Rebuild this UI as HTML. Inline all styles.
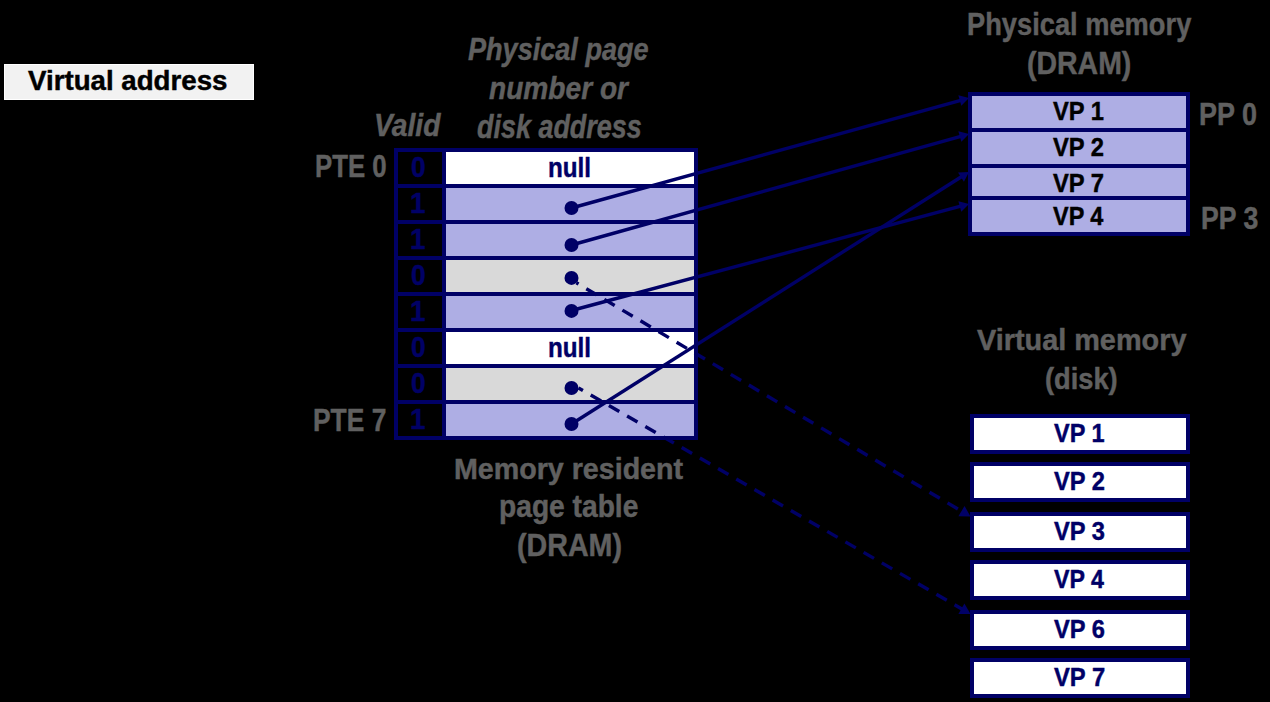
<!DOCTYPE html>
<html><head><meta charset="utf-8"><style>
html,body{margin:0;padding:0;background:#000;}
body{width:1270px;height:702px;position:relative;overflow:hidden;font-family:"Liberation Sans",sans-serif;font-weight:bold;}
.t{position:absolute;white-space:nowrap;transform-origin:0 0;-webkit-text-stroke:0.45px currentColor;}
.r{position:absolute;box-sizing:border-box;}
svg{position:absolute;left:0;top:0;}
</style></head><body>

<div class="r" style="left:4px;top:64px;width:250px;height:36px;background:#f2f2f2;border:1px solid #fff"></div>
<div class="r" style="left:394px;top:148px;width:304px;height:292px;background:#000066"></div>
<div class="r" style="left:398px;top:152px;width:44px;height:32px;background:#000"></div>
<div class="r" style="left:446px;top:152px;width:248px;height:32px;background:#ffffff"></div>
<div class="r" style="left:398px;top:188px;width:44px;height:32px;background:#000"></div>
<div class="r" style="left:446px;top:188px;width:248px;height:32px;background:#aeaee4"></div>
<div class="r" style="left:398px;top:224px;width:44px;height:32px;background:#000"></div>
<div class="r" style="left:446px;top:224px;width:248px;height:32px;background:#aeaee4"></div>
<div class="r" style="left:398px;top:260px;width:44px;height:32px;background:#000"></div>
<div class="r" style="left:446px;top:260px;width:248px;height:32px;background:#d9d9d9"></div>
<div class="r" style="left:398px;top:296px;width:44px;height:32px;background:#000"></div>
<div class="r" style="left:446px;top:296px;width:248px;height:32px;background:#aeaee4"></div>
<div class="r" style="left:398px;top:332px;width:44px;height:32px;background:#000"></div>
<div class="r" style="left:446px;top:332px;width:248px;height:32px;background:#ffffff"></div>
<div class="r" style="left:398px;top:368px;width:44px;height:32px;background:#000"></div>
<div class="r" style="left:446px;top:368px;width:248px;height:32px;background:#d9d9d9"></div>
<div class="r" style="left:398px;top:404px;width:44px;height:32px;background:#000"></div>
<div class="r" style="left:446px;top:404px;width:248px;height:32px;background:#aeaee4"></div>
<div class="r" style="left:968px;top:92px;width:222px;height:144px;background:#000066"></div>
<div class="r" style="left:972px;top:96px;width:214px;height:32px;background:#aeaee4"></div>
<div class="r" style="left:972px;top:132px;width:214px;height:32px;background:#aeaee4"></div>
<div class="r" style="left:972px;top:168px;width:214px;height:28px;background:#aeaee4"></div>
<div class="r" style="left:972px;top:200px;width:214px;height:32px;background:#aeaee4"></div>
<div class="r" style="left:970px;top:414px;width:220px;height:40px;border:4px solid #000066;background:#fff"></div>
<div class="r" style="left:970px;top:462px;width:220px;height:40px;border:4px solid #000066;background:#fff"></div>
<div class="r" style="left:970px;top:512px;width:220px;height:40px;border:4px solid #000066;background:#fff"></div>
<div class="r" style="left:970px;top:560px;width:220px;height:40px;border:4px solid #000066;background:#fff"></div>
<div class="r" style="left:970px;top:610px;width:220px;height:40px;border:4px solid #000066;background:#fff"></div>
<div class="r" style="left:970px;top:658px;width:220px;height:40px;border:4px solid #000066;background:#fff"></div>
<div class="t" style="left:28.00px;top:66.70px;font-size:28.03px;line-height:28.03px;color:#000000;transform:scaleX(0.9878)">Virtual address</div>
<div class="t" style="left:468.43px;top:34.37px;font-size:31.31px;line-height:31.31px;color:#606060;transform:scaleX(0.8653);font-style:italic">Physical page</div>
<div class="t" style="left:488.52px;top:73.18px;font-size:31.72px;line-height:31.72px;color:#606060;transform:scaleX(0.8862);font-style:italic">number or</div>
<div class="t" style="left:477.39px;top:111.36px;font-size:32.41px;line-height:32.41px;color:#606060;transform:scaleX(0.8317);font-style:italic">disk address</div>
<div class="t" style="left:374.35px;top:109.39px;font-size:32.28px;line-height:32.28px;color:#606060;transform:scaleX(0.8745);font-style:italic">Valid</div>
<div class="t" style="left:314.89px;top:150.71px;font-size:31.14px;line-height:31.14px;color:#606060;transform:scaleX(0.8282)">PTE 0</div>
<div class="t" style="left:313.34px;top:405.49px;font-size:31.59px;line-height:31.59px;color:#606060;transform:scaleX(0.8353)">PTE 7</div>
<div class="t" style="left:411.00px;top:152.81px;font-size:28.57px;line-height:28.57px;color:#000066;transform:scaleX(0.9236)">0</div>
<div class="t" style="left:410.30px;top:189.06px;font-size:28.99px;line-height:28.99px;color:#000066;transform:scaleX(0.9573)">1</div>
<div class="t" style="left:410.30px;top:225.06px;font-size:28.99px;line-height:28.99px;color:#000066;transform:scaleX(0.9573)">1</div>
<div class="t" style="left:411.00px;top:260.81px;font-size:28.57px;line-height:28.57px;color:#000066;transform:scaleX(0.9236)">0</div>
<div class="t" style="left:410.30px;top:297.06px;font-size:28.99px;line-height:28.99px;color:#000066;transform:scaleX(0.9573)">1</div>
<div class="t" style="left:411.00px;top:332.81px;font-size:28.57px;line-height:28.57px;color:#000066;transform:scaleX(0.9236)">0</div>
<div class="t" style="left:411.00px;top:368.81px;font-size:28.57px;line-height:28.57px;color:#000066;transform:scaleX(0.9236)">0</div>
<div class="t" style="left:410.30px;top:405.06px;font-size:28.99px;line-height:28.99px;color:#000066;transform:scaleX(0.9573)">1</div>
<div class="t" style="left:547.67px;top:154.79px;font-size:27.03px;line-height:27.03px;color:#000066;transform:scaleX(0.8958)">null</div>
<div class="t" style="left:547.67px;top:334.79px;font-size:27.03px;line-height:27.03px;color:#000066;transform:scaleX(0.8958)">null</div>
<div class="t" style="left:454.19px;top:454.57px;font-size:28.62px;line-height:28.62px;color:#606060;transform:scaleX(1.0005)">Memory resident</div>
<div class="t" style="left:499.17px;top:490.77px;font-size:31.17px;line-height:31.17px;color:#606060;transform:scaleX(0.9044)">page table</div>
<div class="t" style="left:516.71px;top:529.15px;font-size:32.14px;line-height:32.14px;color:#606060;transform:scaleX(0.8914)">(DRAM)</div>
<div class="t" style="left:966.87px;top:8.19px;font-size:32.00px;line-height:32.00px;color:#606060;transform:scaleX(0.8520)">Physical memory</div>
<div class="t" style="left:1027.34px;top:47.19px;font-size:32.00px;line-height:32.00px;color:#606060;transform:scaleX(0.8895)">(DRAM)</div>
<div class="t" style="left:1052.92px;top:97.55px;font-size:26.30px;line-height:26.30px;color:#000000;transform:scaleX(0.9018)">VP 1</div>
<div class="t" style="left:1052.92px;top:133.55px;font-size:26.00px;line-height:26.00px;color:#000000;transform:scaleX(0.9123)">VP 2</div>
<div class="t" style="left:1052.92px;top:171.40px;font-size:25.80px;line-height:25.80px;color:#000000;transform:scaleX(0.9195)">VP 7</div>
<div class="t" style="left:1052.92px;top:202.54px;font-size:26.52px;line-height:26.52px;color:#000000;transform:scaleX(0.8841)">VP 4</div>
<div class="t" style="left:1199.12px;top:99.47px;font-size:31.43px;line-height:31.43px;color:#606060;transform:scaleX(0.8580)">PP 0</div>
<div class="t" style="left:1200.86px;top:204.43px;font-size:30.91px;line-height:30.91px;color:#606060;transform:scaleX(0.8616)">PP 3</div>
<div class="t" style="left:976.84px;top:325.38px;font-size:29.93px;line-height:29.93px;color:#606060;transform:scaleX(0.9638)">Virtual memory</div>
<div class="t" style="left:1045.38px;top:363.90px;font-size:29.93px;line-height:29.93px;color:#606060;transform:scaleX(0.9098)">(disk)</div>
<div class="t" style="left:1054.28px;top:419.62px;font-size:26.52px;line-height:26.52px;color:#000066;transform:scaleX(0.8857)">VP 1</div>
<div class="t" style="left:1054.34px;top:467.95px;font-size:26.14px;line-height:26.14px;color:#000066;transform:scaleX(0.9050)">VP 2</div>
<div class="t" style="left:1054.35px;top:517.95px;font-size:26.14px;line-height:26.14px;color:#000066;transform:scaleX(0.9050)">VP 3</div>
<div class="t" style="left:1054.27px;top:565.62px;font-size:26.52px;line-height:26.52px;color:#000066;transform:scaleX(0.8753)">VP 4</div>
<div class="t" style="left:1054.35px;top:615.95px;font-size:26.14px;line-height:26.14px;color:#000066;transform:scaleX(0.9050)">VP 6</div>
<div class="t" style="left:1054.28px;top:663.62px;font-size:26.52px;line-height:26.52px;color:#000066;transform:scaleX(0.8963)">VP 7</div>
<svg width="1270" height="702" viewBox="0 0 1270 702">
<line x1="571.50" y1="208.00" x2="960.81" y2="100.27" stroke="#000066" stroke-width="3.4"/>
<polygon points="969.00,98.00 961.31,105.83 958.38,95.23" fill="#000066"/>
<line x1="571.50" y1="245.00" x2="960.81" y2="136.29" stroke="#000066" stroke-width="3.4"/>
<polygon points="969.00,134.00 961.33,141.85 958.37,131.26" fill="#000066"/>
<line x1="576.40" y1="282.80" x2="962.33" y2="511.65" stroke="#000066" stroke-width="3.4" stroke-dasharray="12 9" stroke-dashoffset="9.5"/>
<polygon points="970.50,516.50 958.41,516.31 964.53,505.98" fill="#000066"/>
<line x1="571.50" y1="310.50" x2="960.79" y2="206.20" stroke="#000066" stroke-width="3.4"/>
<polygon points="969.00,204.00 961.25,211.77 958.40,201.15" fill="#000066"/>
<line x1="578.50" y1="388.00" x2="962.27" y2="609.26" stroke="#000066" stroke-width="3.4" stroke-dasharray="12 9" stroke-dashoffset="6.9"/>
<polygon points="970.50,614.00 958.41,613.95 964.40,603.56" fill="#000066"/>
<line x1="571.50" y1="424.00" x2="961.82" y2="176.55" stroke="#000066" stroke-width="3.4"/>
<polygon points="969.00,172.00 963.92,181.73 958.03,172.44" fill="#000066"/>
<circle cx="571.50" cy="208.00" r="7" fill="#000066"/>
<circle cx="571.50" cy="245.00" r="7" fill="#000066"/>
<circle cx="571.50" cy="277.90" r="7" fill="#000066"/>
<circle cx="571.50" cy="310.90" r="7" fill="#000066"/>
<circle cx="571.50" cy="388.00" r="7" fill="#000066"/>
<circle cx="571.50" cy="424.00" r="7" fill="#000066"/>
</svg>
</body></html>
